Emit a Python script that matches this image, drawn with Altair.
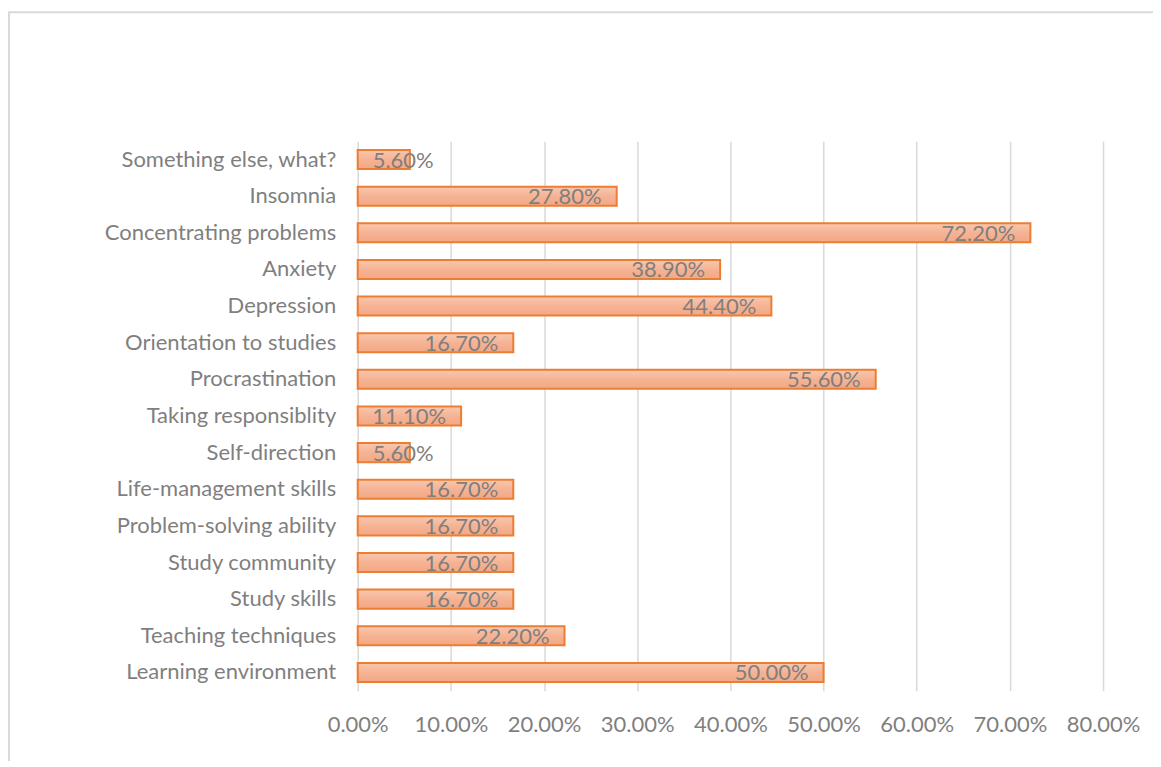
import altair as alt
import pandas as pd

categories = [
    "Something else, what?",
    "Insomnia",
    "Concentrating problems",
    "Anxiety",
    "Depression",
    "Orientation to studies",
    "Procrastination",
    "Taking responsiblity",
    "Self-direction",
    "Life-management skills",
    "Problem-solving ability",
    "Study community",
    "Study skills",
    "Teaching techniques",
    "Learning environment",
]
values = [0.056, 0.278, 0.722, 0.389, 0.444, 0.167, 0.556, 0.111, 0.056,
          0.167, 0.167, 0.167, 0.167, 0.222, 0.500]
labels = ["5.60%", "27.80%", "72.20%", "38.90%", "44.40%", "16.70%", "55.60%",
          "11.10%", "5.60%", "16.70%", "16.70%", "16.70%", "16.70%", "22.20%", "50.00%"]
ticks = [0, 0.1, 0.2, 0.3, 0.4, 0.5, 0.6, 0.7, 0.8]

df = pd.DataFrame({"cat": categories, "val": values, "lab": labels})

FONT = "Lato"
GRAY = "#7f7f7f"
FS = 22

x_enc = alt.X("val:Q", scale=alt.Scale(domain=[0, 0.8]),
              axis=alt.Axis(format=".2%", values=ticks, labelOverlap=False,
                            labelFlush=False,
                            grid=True, gridColor="#d9d9d9", gridWidth=1.5,
                            domain=False, ticks=False, labelPadding=24,
                            labelFontSize=FS, labelColor=GRAY, labelFont=FONT,
                            title=None))
y_enc = alt.Y("cat:N", sort=categories,
              scale=alt.Scale(paddingInner=0.48, paddingOuter=0.24),
              axis=alt.Axis(domain=False, ticks=False, labelPadding=22,
                            labelFontSize=FS, labelColor=GRAY, labelFont=FONT,
                            labelLimit=400, title=None))

base = alt.Chart(df)

bars = base.mark_bar(
    color=alt.Gradient(gradient="linear",
                       stops=[alt.GradientStop(color="#f9c8b0", offset=0),
                              alt.GradientStop(color="#f5b394", offset=0.5),
                              alt.GradientStop(color="#f3a885", offset=1)],
                       x1=0, x2=0, y1=0, y2=1),
    stroke="#ed7d31", strokeWidth=2,
).encode(x=x_enc, y=y_enc)

big = base.transform_filter("datum.val >= 0.08").mark_text(
    align="right", baseline="middle", dx=-15, dy=1, fontSize=FS, font=FONT, color=GRAY
).encode(x="val:Q", y=alt.Y("cat:N", sort=categories), text="lab:N")

small = base.transform_filter("datum.val < 0.08").mark_text(
    align="left", baseline="middle", dx=15, dy=1, fontSize=FS, font=FONT, color=GRAY
).encode(x=alt.datum(0), y=alt.Y("cat:N", sort=categories), text="lab:N")

frame = alt.Chart(pd.DataFrame({"a": [0]})).mark_rect(
    fill="transparent", stroke="#d9d9d9", strokeWidth=2
).encode(x=alt.value(-349), x2=alt.value(900), y=alt.value(-129), y2=alt.value(700))

chart = alt.layer(frame, bars, big, small).properties(
    width=746, height=550,
    autosize=alt.AutoSizeParams(type="none"),
    padding={"left": 350, "top": 133, "right": 50, "bottom": 70},
).configure_view(stroke=None)

chart.save("out.html", embed_options={"renderer": "svg", "actions": False})
